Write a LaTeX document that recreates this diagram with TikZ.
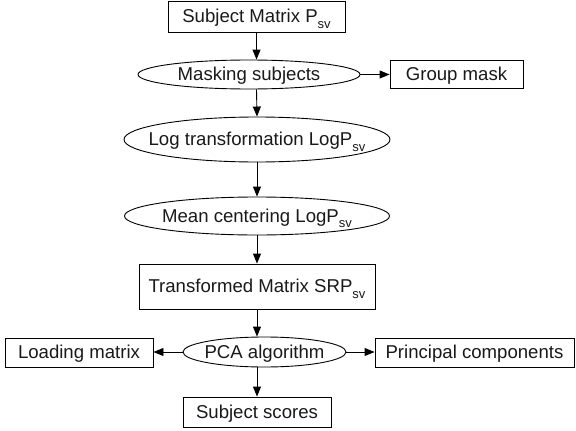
\documentclass[tikz,border=0pt]{standalone}
\usepackage{fontspec}
\setmainfont{Liberation Sans}
\usetikzlibrary{shapes.geometric,arrows.meta}

% small lowered subscript used in the labels
\newcommand{\lowsub}[1]{\raisebox{-0.3em}{\fontsize{13}{13}\selectfont #1}}

\begin{document}
\begin{tikzpicture}[x=1pt,y=-1pt,
  every node/.style={font=\fontsize{18.6}{20}\selectfont, text=black!90,
    text height=14.5pt, text depth=2.5pt},
  boxnode/.style={draw, line width=0.9pt, rectangle, inner sep=0pt},
  ellnode/.style={draw, line width=0.9pt, ellipse, inner sep=0pt},
  arr/.style={line width=0.9pt, -{Triangle[length=10pt,width=8pt]}}
]
\useasboundingbox (0,0) rectangle (576,431);

% main column
\node[boxnode, minimum width=177, minimum height=31] (src) at (256.5,16.5)
  {Subject Matrix P\lowsub{sv}};
\node[ellnode, minimum width=222, minimum height=29,
  label={center:Masking subjects}] (mask) at (249,74.5) {};
\node[boxnode, minimum width=133, minimum height=28] (grp) at (456.5,74)
  {Group mask};
\node[ellnode, minimum width=266, minimum height=45,
  label={center:Log transformation LogP\lowsub{sv}}] (logt) at (257,139.5) {};
\node[ellnode, minimum width=265, minimum height=38,
  label={center:Mean centering LogP\lowsub{sv}}] (mean) at (257,216) {};
\node[boxnode, minimum width=236, minimum height=45] (trans) at (257,286.5)
  {Transformed Matrix SRP\lowsub{sv}};
\node[ellnode, minimum width=163, minimum height=30,
  label={center:PCA algorithm}] (pca) at (264.5,352) {};
\node[boxnode, minimum width=148, minimum height=29] (load) at (79,352.5)
  {Loading matrix};
\node[boxnode, minimum width=199, minimum height=29] (princ) at (474.5,352.5)
  {Principal components};
\node[boxnode, minimum width=148, minimum height=30] (score) at (257,412)
  {Subject scores};

% connectors
\draw[arr] (src.south) -- (src.south |- mask.north);
\draw[arr] (mask.east) -- (grp.west |- mask.east);
\draw[arr] (src.south |- mask.south) -- (logt.north);
\draw[arr] (logt.south) -- (mean.north);
\draw[arr] (mean.south) -- (trans.north);
\draw[arr] (trans.south) -- (trans.south |- pca.north);
\draw[arr] (pca.west) -- (load.east |- pca.west);
\draw[arr] (pca.east) -- (princ.west |- pca.east);
\draw[arr] (score.north |- pca.south) -- (score.north);
\end{tikzpicture}
\end{document}
